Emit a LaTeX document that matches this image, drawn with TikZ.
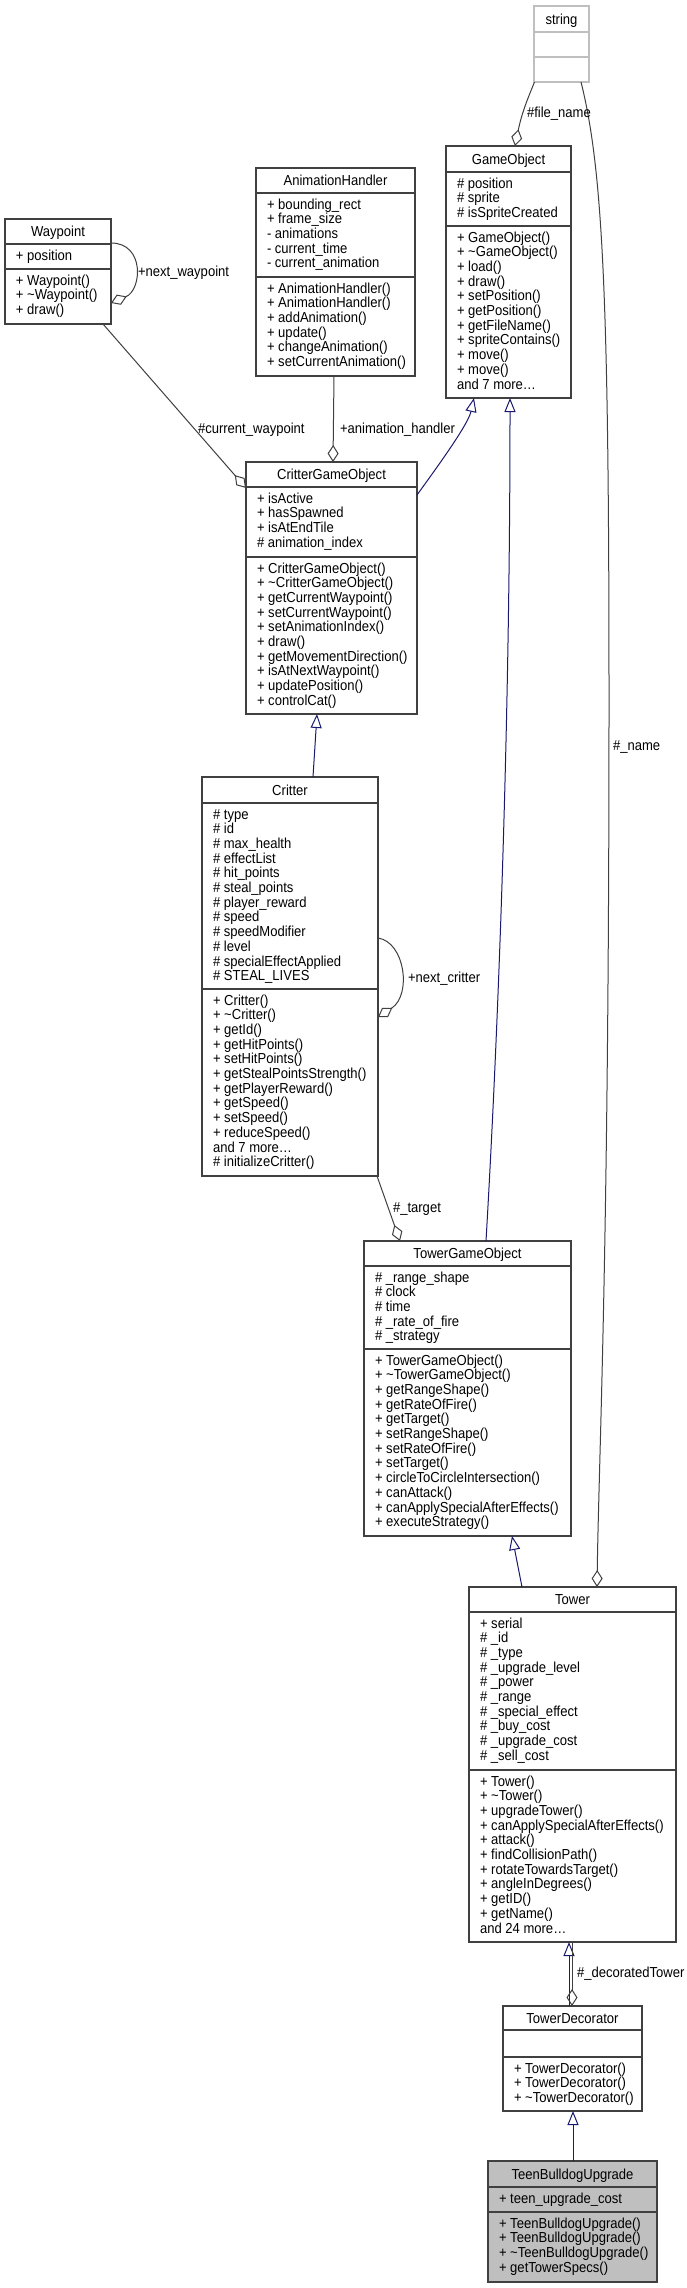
\documentclass[tikz,border=0pt]{standalone}
\usepackage{fontspec}
\setmainfont{Liberation Sans}[FakeStretch=0.9]
\usetikzlibrary{arrows.meta,calc}
\definecolor{dgray}{HTML}{404040}
\definecolor{lgray}{HTML}{BFBFBF}
\definecolor{navy}{HTML}{191970}
\tikzset{
 cls/.style={draw=dgray, line width=1.4pt, fill=white, rectangle, inner sep=0pt, outer sep=0pt},
 sep/.style={draw=dgray, line width=1.4pt},
 txt/.style={inner sep=0pt, outer sep=0pt, font=\fontsize{14.5}{14.7}\selectfont, text=black},
 inh/.style={draw=navy, line width=1pt, -{Triangle[open,length=14pt,width=11pt]}},
 agg/.style={draw=dgray, line width=1pt, -{Diamond[open,length=17pt,width=11pt]}},
}
\newcommand\umlclass[9]{%
  \node[cls,#2,minimum width=#5,minimum height=#6,anchor=north west] (#1) at (#3,#4) {};
  \draw[sep,#2] ($(#1.north west)+(0,#7)$) -- ($(#1.north east)+(0,#7)$);
  \draw[sep,#2] ($(#1.north west)+(0,#7+#8)$) -- ($(#1.north east)+(0,#7+#8)$);
  \node[txt,anchor=base] (#1-title) at ($(#1.north)+(0,#7/2+5.2)$) {#9};
}
\newcommand\cllines[4]{%
  \foreach \cltxt [count=\cli from 0] in {#4} {
    \node[txt, anchor=base west] (#1-#2\cli) at ($(#1.north west)+(11,#3+\cli*14.7)$) {\cltxt};
  }
}
\begin{document}
\begin{tikzpicture}[x=1pt,y=-1pt]
\fill[white] (0,0) rectangle (687,2288);
\useasboundingbox (0,0) rectangle (687,2288);

% string
\umlclass{string}{draw=lgray}{534}{6}{55}{76}{26}{25}{string}
% GameObject
\umlclass{GameObject}{}{446}{146}{125}{252}{26}{54}{GameObject}
\cllines{GameObject}{a}{42}{\# position,\# sprite,\# isSpriteCreated}
\cllines{GameObject}{m}{96}{+ GameObject(),+ \textasciitilde{}GameObject(),+ load(),+ draw(),+ setPosition(),+ getPosition(),+ getFileName(),+ spriteContains(),+ move(),+ move(),{and 7 more\ldots}}
% AnimationHandler
\umlclass{AH}{}{256}{168}{159}{208}{25}{84}{AnimationHandler}
\cllines{AH}{a}{41}{+ bounding\_rect,+ frame\_size,- animations,- current\_time,- current\_animation}
\cllines{AH}{m}{125}{+ AnimationHandler(),+ AnimationHandler(),+ addAnimation(),+ update(),+ changeAnimation(),+ setCurrentAnimation()}
% Waypoint
\umlclass{Waypoint}{}{5}{219}{106}{105}{25}{25}{Waypoint}
\cllines{Waypoint}{a}{41}{+ position}
\cllines{Waypoint}{m}{66}{+ Waypoint(),+ \textasciitilde{}Waypoint(),+ draw()}
% CritterGameObject
\umlclass{CGO}{}{246}{462}{171}{252}{25}{70}{CritterGameObject}
\cllines{CGO}{a}{41}{+ isActive,+ hasSpawned,+ isAtEndTile,\# animation\_index}
\cllines{CGO}{m}{111}{+ CritterGameObject(),+ \textasciitilde{}CritterGameObject(),+ getCurrentWaypoint(),+ setCurrentWaypoint(),+ setAnimationIndex(),+ draw(),+ getMovementDirection(),+ isAtNextWaypoint(),+ updatePosition(),+ controlCat()}
% Critter
\umlclass{Critter}{}{202}{777}{176}{399}{26}{186}{Critter}
\cllines{Critter}{a}{42}{\# type,\# id,\# max\_health,\# effectList,\# hit\_points,\# steal\_points,\# player\_reward,\# speed,\# speedModifier,\# level,\# specialEffectApplied,\# STEAL\_LIVES}
\cllines{Critter}{m}{228}{+ Critter(),+ \textasciitilde{}Critter(),+ getId(),+ getHitPoints(),+ setHitPoints(),+ getStealPointsStrength(),+ getPlayerReward(),+ getSpeed(),+ setSpeed(),+ reduceSpeed(),{and 7 more\ldots},\# initializeCritter()}
% TowerGameObject
\umlclass{TGO}{}{364}{1241}{207}{295}{25}{83}{TowerGameObject}
\cllines{TGO}{a}{41}{\# \_range\_shape,\# clock,\# time,\# \_rate\_of\_fire,\# \_strategy}
\cllines{TGO}{m}{124}{+ TowerGameObject(),+ \textasciitilde{}TowerGameObject(),+ getRangeShape(),+ getRateOfFire(),+ getTarget(),+ setRangeShape(),+ setRateOfFire(),+ setTarget(),+ circleToCircleIntersection(),+ canAttack(),+ canApplySpecialAfterEffects(),+ executeStrategy()}
% Tower
\umlclass{Tower}{}{469}{1587}{207}{355}{25}{158}{Tower}
\cllines{Tower}{a}{41}{+ serial,\# \_id,\# \_type,\# \_upgrade\_level,\# \_power,\# \_range,\# \_special\_effect,\# \_buy\_cost,\# \_upgrade\_cost,\# \_sell\_cost}
\cllines{Tower}{m}{199}{+ Tower(),+ \textasciitilde{}Tower(),+ upgradeTower(),+ canApplySpecialAfterEffects(),+ attack(),+ findCollisionPath(),+ rotateTowardsTarget(),+ angleInDegrees(),+ getID(),+ getName(),{and 24 more\ldots}}
% TowerDecorator
\umlclass{TD}{}{503}{2006}{139}{105}{24}{27}{TowerDecorator}
\cllines{TD}{m}{67}{+ TowerDecorator(),+ TowerDecorator(),+ \textasciitilde{}TowerDecorator()}
% TeenBulldogUpgrade
\umlclass{TBU}{fill=lgray}{488}{2161}{169}{121}{26}{25}{TeenBulldogUpgrade}
\cllines{TBU}{a}{42}{+ teen\_upgrade\_cost}
\cllines{TBU}{m}{67}{+ TeenBulldogUpgrade(),+ TeenBulldogUpgrade(),+ \textasciitilde{}TeenBulldogUpgrade(),+ getTowerSpecs()}

% connectors
\draw[agg] ($(string.south west)+(0.5,0)$) .. controls (528,98) and (522,112) .. ($(GameObject.north west)+(69,0)$);
\draw[agg] ($(string.south west)+(47,0)$) .. controls (603,170) and (609,300) .. (609,700) .. controls (609,1250) and (599,1450) .. ($(Tower.north west)+(128,0)$);
\draw[inh] ($(TGO.north west)+(122,0)$) .. controls (500,1000) and (510,700) .. ($(GameObject.south west)+(64,0)$);
\draw[inh] ($(CGO.north east)+(0,33)$) .. controls (435,470) and (468,425) .. ($(GameObject.south west)+(28,0)$);
\draw[agg] ($(Waypoint.north east)+(0,24)$) .. controls (145,243) and (142,290) .. ($(Waypoint.north east)+(0,84)$);
\draw[agg] ($(Waypoint.south west)+(98,0)$) -- ($(CGO.north west)+(0,26)$);
\draw[agg] ($(AH.south west)+(78,0)$) -- ($(CGO.north west)+(87,0)$);
\draw[inh] ($(Critter.north west)+(111,0)$) -- ($(CGO.south west)+(71,0)$);
\draw[agg] ($(Critter.north east)+(0,161)$) .. controls (405,942) and (412,995) .. ($(Critter.north east)+(0,240)$);
\draw[agg] ($(Critter.south east)+(-1,0)$) -- ($(TGO.north west)+(36,0)$);
\draw[inh] ($(Tower.north west)+(53,0)$) -- ($(TGO.south west)+(148,0)$);
\draw[inh] ($(TD.north west)+(66,0)$) -- ($(Tower.south west)+(100,0)$);
\draw[agg] ($(Tower.south west)+(103,0)$) -- ($(TD.north west)+(69,0)$);
\draw[inh] ($(TBU.north west)+(85,0)$) -- ($(TD.south west)+(70,0)$);

% labels
\node[txt,anchor=base west] (l-file) at (527,118) {\#file\_name};
\node[txt,anchor=base west] (l-nextwp) at (138,276) {+next\_waypoint};
\node[txt,anchor=base west] (l-curwp) at (198,433) {\#current\_waypoint};
\node[txt,anchor=base west] (l-anim) at (340,433) {+animation\_handler};
\node[txt,anchor=base west] (l-nextcr) at (408,982) {+next\_critter};
\node[txt,anchor=base west] (l-target) at (393,1212) {\#\_target};
\node[txt,anchor=base west] (l-name) at (613,750) {\#\_name};
\node[txt,anchor=base west] (l-dec) at (577,1977) {\#\_decoratedTower};
\end{tikzpicture}
\end{document}
